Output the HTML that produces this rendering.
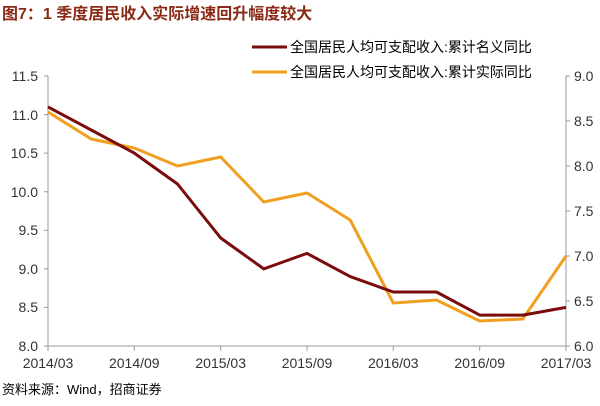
<!DOCTYPE html>
<html><head><meta charset="utf-8"><style>
body{margin:0;background:#fff;width:600px;height:401px;overflow:hidden}
svg text{font-family:"Liberation Sans","Noto Sans CJK SC",sans-serif}
</style></head><body>
<svg width="600" height="401" viewBox="0 0 600 401">
<text x="2" y="19" font-size="16" font-weight="bold" fill="#8B2A16" font-family="'Noto Sans CJK SC',sans-serif">图7：1 季度居民收入实际增速回升幅度较大</text>
<line x1="252" y1="47" x2="287" y2="47" stroke="#7B0C0C" stroke-width="3"/>
<text x="290" y="52" font-size="14" fill="#000">全国居民人均可支配收入:累计名义同比</text>
<line x1="252" y1="72" x2="287" y2="72" stroke="#F0A020" stroke-width="3"/>
<text x="290" y="77" font-size="14" fill="#000">全国居民人均可支配收入:累计实际同比</text>
<g stroke="#999" stroke-width="1" fill="none">
<line x1="48" y1="76" x2="48" y2="346"/><line x1="566" y1="76" x2="566" y2="346"/>
<line x1="48" y1="346" x2="566" y2="346"/>
<path d="M44 76H48M44 114.6H48M44 153.1H48M44 191.7H48M44 230.3H48M44 268.9H48M44 307.4H48M44 346H48"/>
<path d="M566 76H570M566 121H570M566 166H570M566 211H570M566 256H570M566 301H570M566 346H570"/>
<path d="M48 346V351M134.3 346V351M220.7 346V351M307 346V351M393.3 346V351M479.7 346V351M566 346V351"/>
</g>
<g font-size="14" fill="#333" text-anchor="end">
<text x="38" y="81">11.5</text><text x="38" y="120">11.0</text><text x="38" y="158">10.5</text><text x="38" y="197">10.0</text><text x="38" y="235">9.5</text><text x="38" y="274">9.0</text><text x="38" y="312">8.5</text><text x="38" y="351">8.0</text>
</g>
<g font-size="14" fill="#333">
<text x="574" y="81">9.0</text><text x="574" y="126">8.5</text><text x="574" y="171">8.0</text><text x="574" y="216">7.5</text><text x="574" y="261">7.0</text><text x="574" y="306">6.5</text><text x="574" y="351">6.0</text>
</g>
<g font-size="14" fill="#333" text-anchor="middle">
<text x="48" y="368">2014/03</text><text x="134.3" y="368">2014/09</text><text x="220.7" y="368">2015/03</text><text x="307" y="368">2015/09</text><text x="393.3" y="368">2016/03</text><text x="479.7" y="368">2016/09</text><text x="566" y="368">2017/03</text>
</g>
<polyline fill="none" stroke="#F0A020" stroke-width="3" stroke-linejoin="round" points="48,112 91.2,139 134.3,148 177.5,166 220.7,157 263.8,202 307,193 350.2,220 393.3,303 436.5,300 479.7,321 522.8,319 566,256"/>
<polyline fill="none" stroke="#7B0C0C" stroke-width="3" stroke-linejoin="round" points="48,106.9 91.2,130 134.3,153.1 177.5,184 220.7,238 263.8,268.9 307,253.4 350.2,276.6 393.3,292 436.5,292 479.7,315.1 522.8,315.1 566,307.4"/>
<text x="2" y="394" font-size="13" fill="#000" font-family="'Noto Serif CJK SC','Liberation Sans',serif">资料来源：Wind，招商证券</text>
</svg>
</body></html>
